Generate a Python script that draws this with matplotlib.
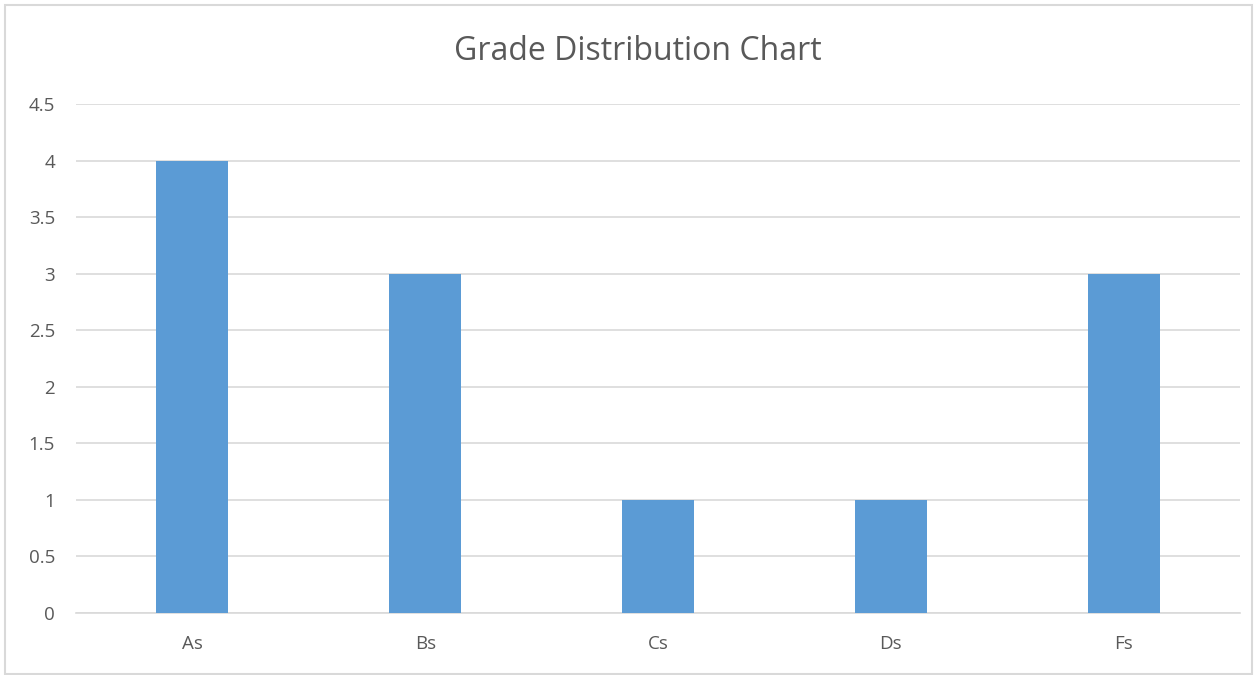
import matplotlib.pyplot as plt
from matplotlib.patches import Rectangle

# data
grades = ['As', 'Bs', 'Cs', 'Ds', 'Fs']
counts = [4, 3, 1, 1, 3]
yticks = [0, 0.5, 1, 1.5, 2, 2.5, 3, 3.5, 4, 4.5]
ytick_labels = ['0', '0.5', '1', '1.5', '2', '2.5', '3', '3.5', '4', '4.5']

plt.rcParams['font.family'] = ['Open Sans', 'DejaVu Sans']
text_col = '#595959'

fig = plt.figure(figsize=(12.58, 6.75), dpi=100)
ax = fig.add_axes([76/1258, 62/675, 1164/1258, 509/675])

x = list(range(len(grades)))
ax.bar(x, counts, width=0.31, color='#5B9BD5', zorder=3)

ax.set_xlim(-0.5, len(grades) - 0.5)
ax.set_ylim(0, 4.5)
ax.set_yticks(yticks)
ax.set_yticklabels(ytick_labels)
ax.set_xticks(x)
ax.set_xticklabels(grades)
ax.tick_params(axis='both', length=0, colors=text_col, labelsize=13.5)
ax.tick_params(axis='y', pad=15)
ax.tick_params(axis='x', pad=16)
ax.yaxis.grid(True, color='#D9D9D9', linewidth=1.2, zorder=0)
for s in ['top', 'right', 'left']:
    ax.spines[s].set_visible(False)
ax.spines['bottom'].set_color('#D9D9D9')
ax.spines['bottom'].set_linewidth(1.2)

fig.text(638/1258, 1 - 51/675, 'Grade Distribution Chart', ha='center', va='center',
         fontsize=23, color=text_col)

# chart border
fig.patches.append(Rectangle((5/1258, 1/675), 1247/1258, 669/675, transform=fig.transFigure,
                             fill=False, edgecolor='#D9D9D9', linewidth=1.5))

fig.savefig('out.png', dpi=100)
